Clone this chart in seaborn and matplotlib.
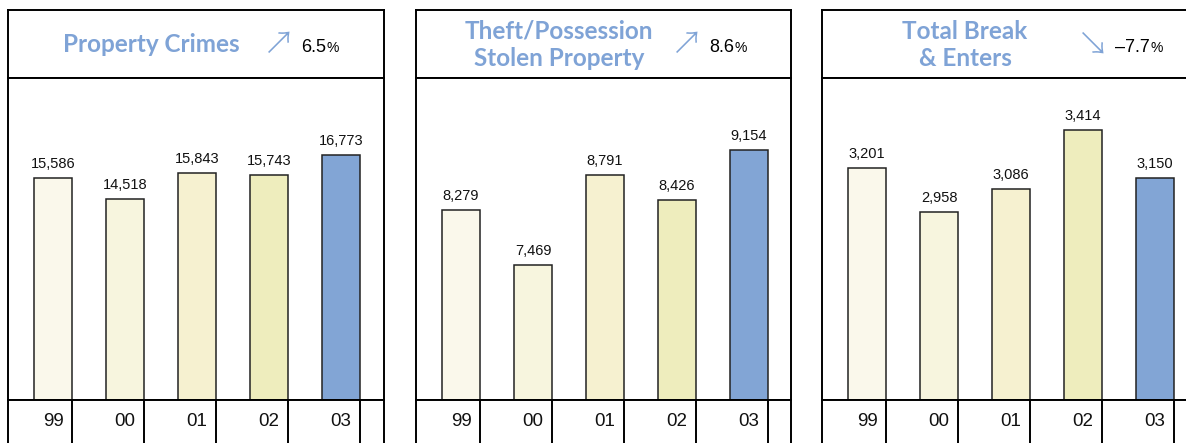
import seaborn as sns
import pandas as pd
from matplotlib import pyplot as plt
import numpy as np

sns.set_style("white")
plt.rcParams['font.family'] = ['Liberation Sans', 'DejaVu Sans']

# data
years = ["99", "00", "01", "02", "03"]
titles = ["Property Crimes", "Theft/Possession\nStolen Property", "Total Break\n& Enters"]
changes = ["6.5", "8.6", "-7.7"]
arrows = ["\u2197", "\u2197", "\u2198"]
property_crimes = [15586, 14518, 15843, 15743, 16773]
theft_possession = [8279, 7469, 8791, 8426, 9154]
break_enters = [3201, 2958, 3086, 3414, 3150]
series = [property_crimes, theft_possession, break_enters]
ylims = [(4160, 20740), (5490, 10210), (1917, 3702)]

bar_colors = ["#FAF8EB", "#F7F5DE", "#F6F1D0", "#EEEDBD", "#82A5D5"]
title_color = "#7FA3D6"

W, H = 1186, 443
fig = plt.figure(figsize=(W / 100, H / 100), dpi=100)


def rect(x0, y0, x1, y1):
    return [x0 / W, 1 - y1 / H, (x1 - x0) / W, (y1 - y0) / H]


lefts = [8, 416, 822]
rights = [384, 791, 1210]
lw = 1.4
step = 72.0

for k in range(3):
    x0, x1 = lefts[k], rights[k]
    xlim = (-45 / step, (x1 - x0 - 45) / step)

    # title box
    tax = fig.add_axes(rect(x0, 10, x1, 78))
    tax.set_xlim(0, x1 - x0)
    tax.set_ylim(68, 0)
    tax.set_xticks([])
    tax.set_yticks([])
    for s in tax.spines.values():
        s.set_color("black")
        s.set_linewidth(lw)
    tax.text(143, 35, titles[k], ha="center", va="center", color=title_color,
             fontsize=17.5, family="Lato", fontweight="bold", linespacing=1.22)
    tax.text(271, 35, arrows[k], ha="center", va="center", color=title_color,
             fontsize=23, family=["Noto Sans CJK JP", "DejaVu Sans"], fontweight="light")
    t1 = tax.text(293, 37, changes[k].replace("-", "\u2013"), ha="left", va="center",
                  color="black", fontsize=13)
    tax.annotate("%", xy=(1, 0), xycoords=t1, xytext=(0.5, 0.3), textcoords="offset points",
                 ha="left", va="bottom", fontsize=10, color="black")

    # bars
    ax = fig.add_axes(rect(x0, 78, x1, 400))
    df = pd.DataFrame({"year": years, "value": series[k]})
    sns.barplot(data=df, x="year", y="value", hue="year", palette=bar_colors, saturation=1,
                legend=False, width=38 / step, edgecolor="#222222", linewidth=1.1, ax=ax)
    ax.set_xlim(*xlim)
    ax.set_ylim(*ylims[k])
    ax.set_xticks([])
    ax.set_yticks([])
    ax.set_xlabel("")
    ax.set_ylabel("")
    for s in ax.spines.values():
        s.set_visible(True)
        s.set_color("black")
        s.set_linewidth(lw)
    for i, v in enumerate(series[k]):
        ax.annotate(f"{v:,}", xy=(i, v), xytext=(0, 5), textcoords="offset points",
                    ha="center", va="bottom", fontsize=10.5, color="#111111")

    # bottom row with year labels
    bax = fig.add_axes(rect(x0, 400, x1, 470))
    bax.set_xlim(*xlim)
    bax.set_ylim(70, 0)
    bax.set_xticks([])
    bax.set_yticks([])
    for name, s in bax.spines.items():
        s.set_color("black")
        s.set_linewidth(lw)
    bax.vlines([i + 19 / step for i in range(len(years))], 0, 70, color="black", lw=lw)
    for i, y in enumerate(years):
        bax.text(i, 21, y, ha="center", va="center", fontsize=13.5, color="#111111")

fig.savefig("out.png", dpi=100)
